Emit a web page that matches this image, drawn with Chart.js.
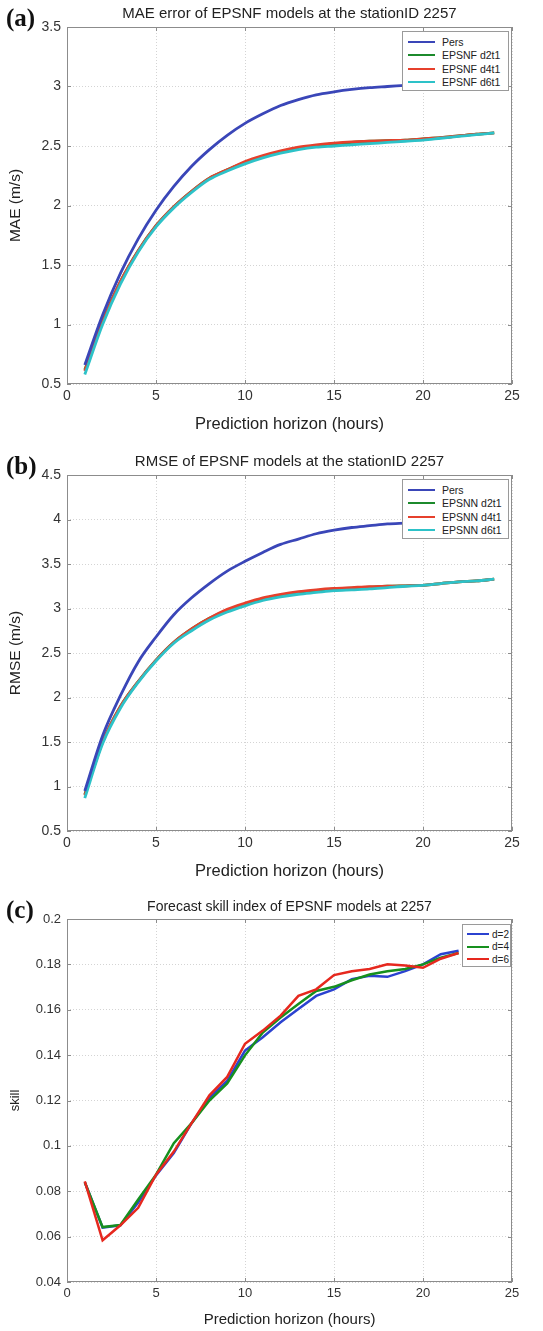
<!DOCTYPE html>
<html>
<head>
<meta charset="utf-8">
<script src="https://cdn.jsdelivr.net/npm/chart.js@4.4.1/dist/chart.umd.min.js"></script>
<style>
  html, body { margin: 0; padding: 0; background: #fff; }
  body { width: 543px; height: 1331px; position: relative; overflow: hidden;
         font-family: "Liberation Sans", Arial, sans-serif; }
  .panel { position: absolute; left: 0; width: 543px; }
  .tag { position: absolute; left: 6px; font-family: "Liberation Serif", "DejaVu Serif", serif;
         font-weight: bold; font-size: 25px; line-height: 26px; color: #111; }
  .ttl { position: absolute; left: 67px; width: 445px; text-align: center;
         line-height: 16px; color: #222; white-space: nowrap; }
  .lgd { position: absolute; background: #fff; border: 1px solid #9a9a9a; color: #222;
         box-sizing: border-box; padding-top: 3px; }
  .lgd div { display: flex; align-items: center; white-space: nowrap; }
  .lgd i { display: inline-block; height: 0; border-top: 2.5px solid; }
</style>
</head>
<body>
<script>
// Prediction horizon, hours
const hours = [1, 2, 3, 4, 5, 6, 7, 8, 9, 10, 11, 12, 13, 14, 15, 16, 17, 18, 19, 20, 21, 22, 23, 24];
const skillHours = [1, 2, 3, 4, 5, 6, 7, 8, 9, 10, 11, 12, 13, 14, 15, 16, 17, 18, 19, 20, 21, 22];

// Mean absolute error (m/s)
const maePers = [0.66, 1.08, 1.43, 1.72, 1.96, 2.16, 2.33, 2.47, 2.59, 2.69, 2.77, 2.84, 2.89, 2.93, 2.955, 2.975, 2.99, 3.0, 3.01, 3.02, 3.03, 3.04, 3.05, 3.06];
const maeD2 = [0.62, 1.03, 1.36, 1.62, 1.83, 1.99, 2.12, 2.23, 2.30, 2.36, 2.41, 2.45, 2.48, 2.50, 2.52, 2.53, 2.54, 2.545, 2.55, 2.56, 2.57, 2.585, 2.60, 2.61];
const maeD4 = [0.61, 1.02, 1.36, 1.62, 1.83, 1.99, 2.12, 2.23, 2.30, 2.37, 2.42, 2.46, 2.49, 2.51, 2.525, 2.535, 2.54, 2.545, 2.55, 2.56, 2.57, 2.585, 2.60, 2.61];
const maeD6 = [0.58, 1.00, 1.34, 1.61, 1.82, 1.98, 2.11, 2.22, 2.29, 2.35, 2.40, 2.44, 2.47, 2.49, 2.50, 2.51, 2.52, 2.53, 2.54, 2.55, 2.565, 2.58, 2.595, 2.61];

// Root mean square error (m/s)
const rmsePers = [0.95, 1.57, 2.02, 2.40, 2.68, 2.93, 3.12, 3.28, 3.42, 3.53, 3.63, 3.72, 3.78, 3.84, 3.88, 3.91, 3.93, 3.95, 3.96, 3.97, 3.99, 4.0, 4.01, 4.02];
const rmseD2 = [0.91, 1.50, 1.90, 2.18, 2.42, 2.62, 2.77, 2.89, 2.98, 3.05, 3.11, 3.15, 3.18, 3.20, 3.22, 3.23, 3.24, 3.25, 3.255, 3.26, 3.28, 3.30, 3.31, 3.33];
const rmseD4 = [0.90, 1.50, 1.90, 2.18, 2.42, 2.62, 2.77, 2.89, 2.99, 3.06, 3.12, 3.16, 3.19, 3.21, 3.225, 3.235, 3.245, 3.25, 3.255, 3.26, 3.28, 3.30, 3.31, 3.33];
const rmseD6 = [0.87, 1.48, 1.88, 2.17, 2.41, 2.61, 2.75, 2.87, 2.96, 3.03, 3.09, 3.13, 3.16, 3.18, 3.20, 3.21, 3.22, 3.235, 3.25, 3.26, 3.28, 3.30, 3.31, 3.33];

// Forecast skill index
const skillD2 = [0.084, 0.064, 0.065, 0.075, 0.087, 0.0968, 0.110, 0.1213, 0.1286, 0.142, 0.1479, 0.1545, 0.1603, 0.1661, 0.169, 0.1735, 0.175, 0.1745, 0.177, 0.180, 0.1845, 0.186];
const skillD4 = [0.084, 0.0642, 0.0651, 0.0764, 0.0873, 0.1012, 0.110, 0.120, 0.1275, 0.1399, 0.150, 0.1566, 0.1625, 0.1683, 0.1701, 0.173, 0.1755, 0.177, 0.178, 0.180, 0.183, 0.185];
const skillD6 = [0.0844, 0.0584, 0.065, 0.0727, 0.0873, 0.0975, 0.110, 0.1223, 0.1304, 0.145, 0.1508, 0.1574, 0.1661, 0.169, 0.1753, 0.177, 0.178, 0.180, 0.1795, 0.1785, 0.1825, 0.185];

const xTicks = [0, 5, 10, 15, 20, 25];

const FONT = '"Liberation Sans", Arial, sans-serif';

// Box round the plot area with short inward tick marks on all four sides
const frame = {
  id: 'frame',
  beforeDatasetsDraw(chart) {
    const { ctx, chartArea: a, scales } = chart;
    ctx.save();
    ctx.strokeStyle = '#8c8c8c';
    ctx.lineWidth = 1;
    ctx.strokeRect(a.left + 0.5, a.top + 0.5, a.right - a.left - 1, a.bottom - a.top - 1);
    ctx.beginPath();
    scales.x.ticks.forEach(t => {
      const px = Math.round(scales.x.getPixelForValue(t.value)) + 0.5;
      ctx.moveTo(px, a.bottom); ctx.lineTo(px, a.bottom - 4);
      ctx.moveTo(px, a.top); ctx.lineTo(px, a.top + 4);
    });
    scales.y.ticks.forEach(t => {
      const py = Math.round(scales.y.getPixelForValue(t.value)) + 0.5;
      ctx.moveTo(a.left, py); ctx.lineTo(a.left + 4, py);
      ctx.moveTo(a.right, py); ctx.lineTo(a.right - 4, py);
    });
    ctx.stroke();
    ctx.restore();
  }
};

function pairs(xs, ys) { return ys.map((y, i) => ({ x: xs[i], y })); }

function makePanel(p) {
  const box = document.createElement('div');
  box.className = 'panel';
  box.style.top = p.top + 'px';
  box.style.height = p.height + 'px';
  const cv = document.createElement('canvas');
  box.appendChild(cv);
  document.body.appendChild(box);

  const tag = document.createElement('div');
  tag.className = 'tag';
  tag.textContent = p.tag;
  tag.style.top = (p.top + p.plotTop - 22) + 'px';
  document.body.appendChild(tag);

  const ttl = document.createElement('div');
  ttl.className = 'ttl';
  ttl.textContent = p.title;
  ttl.style.top = (p.top + p.plotTop - p.titleRise) + 'px';
  ttl.style.fontSize = p.titleSize + 'px';
  document.body.appendChild(ttl);

  const L = p.legend;
  const lg = document.createElement('div');
  lg.className = 'lgd';
  Object.assign(lg.style, {
    left: L.left + 'px', top: (p.top + p.plotTop + L.dy) + 'px',
    width: L.width + 'px', height: L.height + 'px', fontSize: L.font + 'px'
  });
  p.series.forEach(s => {
    const row = document.createElement('div');
    row.style.height = L.row + 'px';
    const sw = document.createElement('i');
    sw.style.borderTopColor = s.color;
    sw.style.width = L.swatch + 'px';
    sw.style.margin = `0 ${L.gap}px 0 ${L.indent}px`;
    row.appendChild(sw);
    row.appendChild(document.createTextNode(s.label));
    lg.appendChild(row);
  });
  document.body.appendChild(lg);

  const tickFmt = v => String(+v.toFixed(3));
  new Chart(cv, {
    type: 'line',
    data: {
      datasets: p.series.map(s => ({
        label: s.label,
        data: pairs(s.x, s.y),
        borderColor: s.color,
        backgroundColor: s.color,
        borderWidth: p.lineWidth,
        pointRadius: 0,
        fill: false,
        order: s.order,
        cubicInterpolationMode: p.smooth ? 'monotone' : 'default',
        tension: 0
      }))
    },
    options: {
      responsive: true,
      maintainAspectRatio: false,
      animation: false,
      events: [],
      layout: { padding: { top: p.plotTop, right: 31, bottom: 0, left: 0 } },
      plugins: { legend: { display: false }, title: { display: false }, tooltip: { enabled: false } },
      scales: {
        x: {
          type: 'linear', min: 0, max: 25,
          afterBuildTicks: sc => { sc.ticks = xTicks.map(v => ({ value: v })); },
          afterFit: sc => { sc.height = p.xHeight; },
          ticks: { color: '#333', font: { family: FONT, size: p.tickSize }, padding: 4, maxRotation: 0, callback: tickFmt },
          grid: { color: '#d4d4d4', drawTicks: false, lineWidth: 1 },
          border: { display: false, dash: [1, 2] },
          title: { display: true, text: 'Prediction horizon (hours)', color: '#222',
                   font: { family: FONT, size: p.xTitleSize }, padding: p.xTitlePad }
        },
        y: {
          type: 'linear', min: p.yMin, max: p.yMax,
          afterBuildTicks: sc => { sc.ticks = p.yTicks.map(v => ({ value: v })); },
          afterFit: sc => { sc.width = 67; },
          ticks: { color: '#333', font: { family: FONT, size: p.tickSize }, padding: 6, callback: tickFmt },
          grid: { color: '#d4d4d4', drawTicks: false, lineWidth: 1 },
          border: { display: false, dash: [1, 2] },
          title: { display: true, text: p.yTitle, color: '#222',
                   font: { family: FONT, size: p.yTitleSize }, padding: p.yTitlePad }
        }
      }
    },
    plugins: [frame]
  });
}

// (a) MAE
makePanel({
  top: 0, height: 440, plotTop: 27, xHeight: 56,
  tag: '(a)', title: 'MAE error of EPSNF models at the stationID 2257', titleSize: 15, titleRise: 22,
  yMin: 0.5, yMax: 3.5, yTicks: [0.5, 1, 1.5, 2, 2.5, 3, 3.5], yTitle: 'MAE (m/s)',
  tickSize: 14, xTitleSize: 16.5, xTitlePad: 6, yTitleSize: 15.5, yTitlePad: 6,
  lineWidth: 2.8, smooth: true,
  legend: { left: 402, dy: 4, width: 107, height: 60, row: 13.5, swatch: 27, indent: 5, gap: 7, font: 10.5 },
  series: [
    { label: 'Pers', x: hours, y: maePers, color: '#3a46b8', order: 0 },
    { label: 'EPSNF d2t1', x: hours, y: maeD2, color: '#1c8a2c', order: 3 },
    { label: 'EPSNF d4t1', x: hours, y: maeD4, color: '#e6402c', order: 2 },
    { label: 'EPSNF d6t1', x: hours, y: maeD6, color: '#2dc2c8', order: 1 }
  ]
});

// (b) RMSE
makePanel({
  top: 440, height: 447, plotTop: 35, xHeight: 56,
  tag: '(b)', title: 'RMSE of EPSNF models at the stationID 2257', titleSize: 15, titleRise: 22,
  yMin: 0.5, yMax: 4.5, yTicks: [0.5, 1, 1.5, 2, 2.5, 3, 3.5, 4, 4.5], yTitle: 'RMSE (m/s)',
  tickSize: 14, xTitleSize: 16.5, xTitlePad: 6, yTitleSize: 15.5, yTitlePad: 6,
  lineWidth: 2.8, smooth: true,
  legend: { left: 402, dy: 4, width: 107, height: 60, row: 13.5, swatch: 27, indent: 5, gap: 7, font: 10.5 },
  series: [
    { label: 'Pers', x: hours, y: rmsePers, color: '#3a46b8', order: 0 },
    { label: 'EPSNN d2t1', x: hours, y: rmseD2, color: '#1c8a2c', order: 3 },
    { label: 'EPSNN d4t1', x: hours, y: rmseD4, color: '#e6402c', order: 2 },
    { label: 'EPSNN d6t1', x: hours, y: rmseD6, color: '#2dc2c8', order: 1 }
  ]
});

// (c) Skill index
makePanel({
  top: 880, height: 451, plotTop: 39, xHeight: 49,
  tag: '(c)', title: 'Forecast skill index of EPSNF models at 2257', titleSize: 14, titleRise: 21,
  yMin: 0.04, yMax: 0.2, yTicks: [0.04, 0.06, 0.08, 0.1, 0.12, 0.14, 0.16, 0.18, 0.2], yTitle: 'skill',
  tickSize: 13, xTitleSize: 15, xTitlePad: 2, yTitleSize: 13, yTitlePad: 8,
  lineWidth: 2.5, smooth: false,
  legend: { left: 462, dy: 5, width: 49, height: 43, row: 12.5, swatch: 22, indent: 4, gap: 3, font: 10 },
  series: [
    { label: 'd=2', x: skillHours, y: skillD2, color: '#2b42d0', order: 3 },
    { label: 'd=4', x: skillHours, y: skillD4, color: '#16901e', order: 2 },
    { label: 'd=6', x: skillHours, y: skillD6, color: '#e6281e', order: 1 }
  ]
});
</script>
</body>
</html>
